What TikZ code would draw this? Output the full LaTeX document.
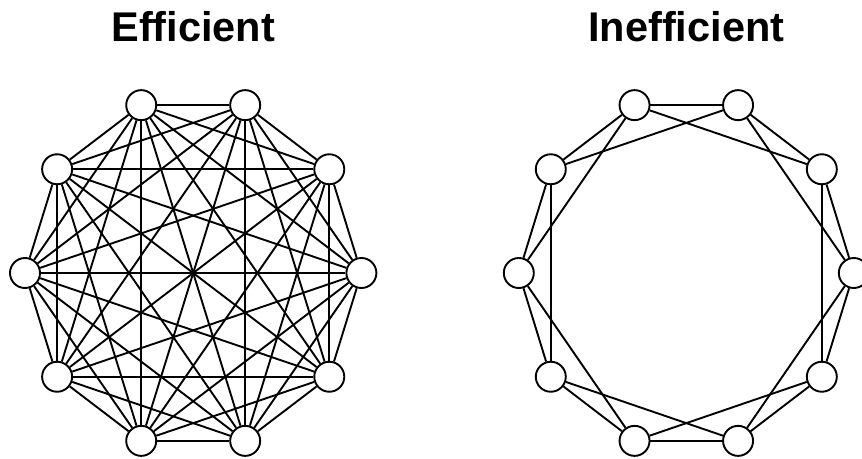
\documentclass[tikz,border=0pt]{standalone}
\usepackage{fontspec}
\setmainfont{Liberation Sans}
\begin{document}
\begin{tikzpicture}[x=1pt, y=-1pt,
  vertex/.style={circle, draw, fill=white, line width=1.9pt, minimum size=30pt, inner sep=0pt},
  edge/.style={line width=1.9pt},
  title/.style={font=\bfseries\fontsize{41.5}{48}\selectfont, anchor=base, inner sep=0pt}]
\useasboundingbox (0,0) rectangle (862,458);

% titles
\node[title] (tl) at (193.2,41.7) {Efficient};
\node[title] (tr) at (686.3,41.7) {Inefficient};

% ten vertices on each side, placed on an ellipse
\foreach \k in {0,...,9}{
  \pgfmathsetmacro\ang{36*\k}
  \node[vertex] (L\k) at ({193.2+168.2*cos(\ang)}, {273.0-176.5*sin(\ang)}) {};
  \node[vertex] (R\k) at ({686.3+167.5*cos(\ang)}, {273.0-176.5*sin(\ang)}) {};
}

% complete graph on the left
\foreach \i in {0,...,8}{
  \pgfmathtruncatemacro\s{\i+1}
  \foreach \j in {\s,...,9}{
    \draw[edge] (L\i) -- (L\j);
  }
}

% ring with links to the first and second neighbours on the right
\foreach \i in {0,...,9}{
  \pgfmathtruncatemacro\p{mod(\i+1,10)}
  \pgfmathtruncatemacro\q{mod(\i+2,10)}
  \draw[edge] (R\i) -- (R\p);
  \draw[edge] (R\i) -- (R\q);
}
\end{tikzpicture}
\end{document}
